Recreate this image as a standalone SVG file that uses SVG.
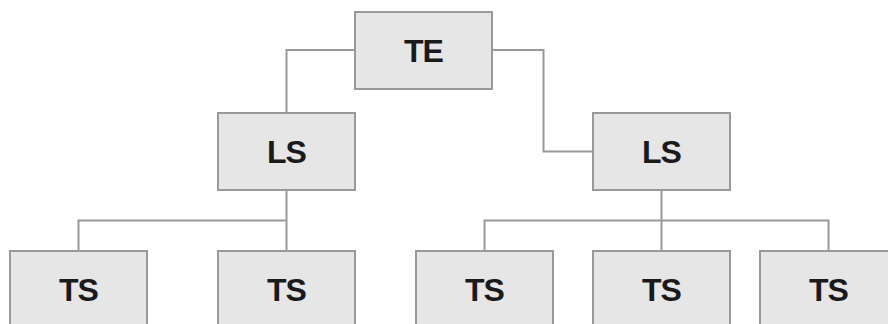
<svg xmlns="http://www.w3.org/2000/svg" width="888" height="324" viewBox="0 0 888 324">
<style>
.box{fill:#e6e6e6;stroke:#999;stroke-width:2}
.lbl{font-family:"Liberation Sans",Arial,sans-serif;font-weight:bold;font-size:32px;fill:#1a1a1a;text-anchor:middle;letter-spacing:-1px}
.con{fill:none;stroke:#999;stroke-width:2}
</style>
<rect width="888" height="324" fill="#fff"/>
<g id="connectors">
<path class="con" d="M355,50 H286.5 V113"/>
<path class="con" d="M492,50 H543.5 V151.5 H593"/>
<path class="con" d="M286.5,190 V251 M286.5,220.5 H78.5 V251"/>
<path class="con" d="M661.5,190 V251 M484.5,251 V220.5 H828.5 V251"/>
</g>
<g id="te"><rect class="box" x="355" y="12" width="137" height="77"/><text class="lbl" x="423.5" y="62">TE</text></g>
<g id="ls1"><rect class="box" x="218" y="113" width="137" height="77"/><text class="lbl" x="286.5" y="163">LS</text></g>
<g id="ls2"><rect class="box" x="593" y="113" width="137" height="77"/><text class="lbl" x="661.5" y="163">LS</text></g>
<g id="ts1"><rect class="box" x="10" y="251" width="137" height="77"/><text class="lbl" x="78.5" y="301">TS</text></g>
<g id="ts2"><rect class="box" x="218" y="251" width="137" height="77"/><text class="lbl" x="286.5" y="301">TS</text></g>
<g id="ts3"><rect class="box" x="416" y="251" width="137" height="77"/><text class="lbl" x="484.5" y="301">TS</text></g>
<g id="ts4"><rect class="box" x="593" y="251" width="137" height="77"/><text class="lbl" x="661.5" y="301">TS</text></g>
<g id="ts5"><rect class="box" x="760" y="251" width="137" height="77"/><text class="lbl" x="828.5" y="301">TS</text></g>
</svg>
